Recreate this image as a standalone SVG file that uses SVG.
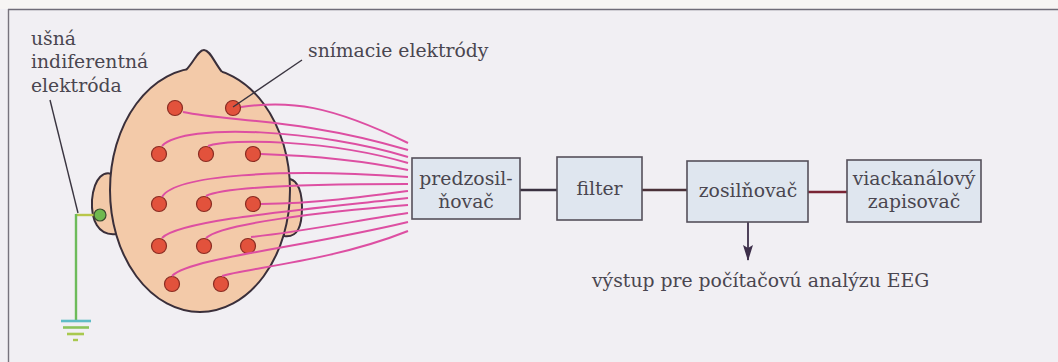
<svg xmlns="http://www.w3.org/2000/svg" width="1058" height="362" viewBox="0 0 1058 362">
  <defs>
    <style>
      .lbl { font-family: "DejaVu Serif", "Liberation Serif", serif; font-size: 18.8px; fill: #4a4650; }
      .box { fill: #dfe6ef; stroke: #55505a; stroke-width: 1.6; }
      .skin { fill: #f3caa9; stroke: #3a2f3a; stroke-width: 2; }
      .el { fill: #e2523c; stroke: #8a2c22; stroke-width: 1.2; }
      .wire { fill: none; stroke: #dd4fa2; stroke-width: 2; }
      .ptr { fill: none; stroke: #3a3540; stroke-width: 1.4; }
      .link { stroke-width: 2.6; fill: none; }
    </style>
    <!-- slender arrowhead pointing along the path direction -->
    <marker id="arrow" viewBox="0 0 16 10" refX="15" refY="5" markerWidth="16" markerHeight="10" markerUnits="userSpaceOnUse" orient="auto">
      <path d="M0,0 L3,5 L0,10 L16,5 Z" fill="#3d2f4a"/>
    </marker>
  </defs>

  <!-- page background and frame -->
  <rect x="0" y="0" width="1058" height="362" fill="#f1eff3"/>
  <rect x="0" y="0" width="1058" height="9" fill="#f7f5f4"/>
  <line x1="8" y1="9.5" x2="1058" y2="9.5" stroke="#6f6c78" stroke-width="1.6"/>
  <line x1="8.5" y1="9" x2="8.5" y2="362" stroke="#77737d" stroke-width="1.4"/>

  <!-- head with ears and nose -->
  <g id="head">
    <path class="skin" d="M116,176 C104,168 94,178 92,200 C91,220 98,236 116,234 Z"/>
    <path class="skin" d="M284,180 C294,176 302,186 302,207 C302,226 298,238 284,236 Z"/>
    <ellipse class="skin" cx="200" cy="190" rx="90" ry="122"/>
    <path d="M186,70 C194,62 198,50 204,50 C210,50 214,62 222,72 L222,78 L186,78 Z" fill="#f3caa9"/>
    <path class="ptr" style="stroke:#3a2f3a;stroke-width:2" d="M186,70 C194,62 198,50 204,50 C210,50 214,62 222,72"/>
  </g>

  <!-- recording electrodes -->
  <g id="electrodes">
    <circle class="el" cx="175" cy="108" r="7.5"/>
    <circle class="el" cx="233" cy="108" r="7.5"/>
    <circle class="el" cx="159" cy="154" r="7.5"/>
    <circle class="el" cx="206" cy="154" r="7.5"/>
    <circle class="el" cx="253" cy="154" r="7.5"/>
    <circle class="el" cx="159" cy="204" r="7.5"/>
    <circle class="el" cx="204" cy="204" r="7.5"/>
    <circle class="el" cx="253" cy="204" r="7.5"/>
    <circle class="el" cx="159" cy="246" r="7.5"/>
    <circle class="el" cx="204" cy="246" r="7.5"/>
    <circle class="el" cx="248" cy="246" r="7.5"/>
    <circle class="el" cx="172" cy="284" r="7.5"/>
    <circle class="el" cx="221" cy="284" r="7.5"/>
  </g>

  <!-- ear reference electrode and ground -->
  <g id="ground">
    <polyline points="95,215 76,215" fill="none" stroke="#b9c64a" stroke-width="2.4"/>
    <polyline points="76,214 76,321" fill="none" stroke="#6dbb5a" stroke-width="2.4"/>
    <circle cx="100" cy="215" r="6" fill="#6fb94f" stroke="#3a4a30" stroke-width="1.2"/>
    <line x1="61" y1="321" x2="91" y2="321" stroke="#5fbcc6" stroke-width="2.6"/>
    <line x1="63" y1="327.5" x2="89" y2="327.5" stroke="#8cc35a" stroke-width="2.6"/>
    <line x1="67" y1="334" x2="84" y2="334" stroke="#a8c84e" stroke-width="2.6"/>
    <line x1="73" y1="340" x2="78" y2="340" stroke="#a8c84e" stroke-width="2.4"/>
  </g>

  <!-- electrode leads to the preamplifier -->
  <g id="connectors">
    <path class="wire" d="M241,107 C290,100 330,105 408,143"/>
    <path class="wire" d="M183,112 C230,122 300,118 408,150"/>
    <path class="wire" d="M162,146 C185,122 320,130 408,157"/>
    <path class="wire" d="M208,146 C230,138 330,140 408,163"/>
    <path class="wire" d="M261,154 C320,156 370,162 408,170"/>
    <path class="wire" d="M162,197 C175,175 280,168 408,177"/>
    <path class="wire" d="M206,196 C225,186 330,184 408,184"/>
    <path class="wire" d="M261,204 C320,203 370,196 408,191"/>
    <path class="wire" d="M162,238 C180,220 300,210 408,198"/>
    <path class="wire" d="M206,238 C220,224 320,212 408,205"/>
    <path class="wire" d="M251,237 C300,232 360,220 408,213"/>
    <path class="wire" d="M172,276 C190,258 300,248 408,222"/>
    <path class="wire" d="M222,276 C245,268 330,262 408,231"/>

    <line class="link" x1="520" y1="190" x2="557" y2="190" stroke="#3a3040"/>
    <line class="link" x1="642" y1="190" x2="687" y2="190" stroke="#4a3038"/>
    <line class="link" x1="808" y1="192" x2="847" y2="192" stroke="#7a2434"/>
    <line x1="748" y1="222" x2="748" y2="260" stroke="#3d2f4a" stroke-width="1.8" marker-end="url(#arrow)"/>

    <line class="ptr" x1="233" y1="107" x2="302" y2="60"/>
    <line class="ptr" x1="50" y1="100" x2="78" y2="213"/>
  </g>

  <!-- signal chain -->
  <g id="preamp">
    <rect class="box" x="412" y="158" width="108" height="61"/>
    <text class="lbl" x="466" y="185" text-anchor="middle">predzosil-</text>
    <text class="lbl" x="466" y="208" text-anchor="middle">ňovač</text>
  </g>
  <g id="filter">
    <rect class="box" x="557" y="157" width="85" height="63"/>
    <text class="lbl" x="599.5" y="195" text-anchor="middle">filter</text>
  </g>
  <g id="amplifier">
    <rect class="box" x="687" y="161" width="121" height="61"/>
    <text class="lbl" x="748" y="197" text-anchor="middle">zosilňovač</text>
  </g>
  <g id="recorder">
    <rect class="box" x="847" y="160" width="134" height="62"/>
    <text class="lbl" x="914" y="185" text-anchor="middle">viackanálový</text>
    <text class="lbl" x="914" y="208" text-anchor="middle">zapisovač</text>
  </g>

  <!-- labels -->
  <g id="labels">
    <text class="lbl" x="31" y="45">ušná</text>
    <text class="lbl" x="31" y="68">indiferentná</text>
    <text class="lbl" x="31" y="92">elektróda</text>
    <text class="lbl" x="308" y="57">snímacie elektródy</text>
    <text class="lbl" x="592" y="287">výstup pre počítačovú analýzu EEG</text>
  </g>
</svg>
